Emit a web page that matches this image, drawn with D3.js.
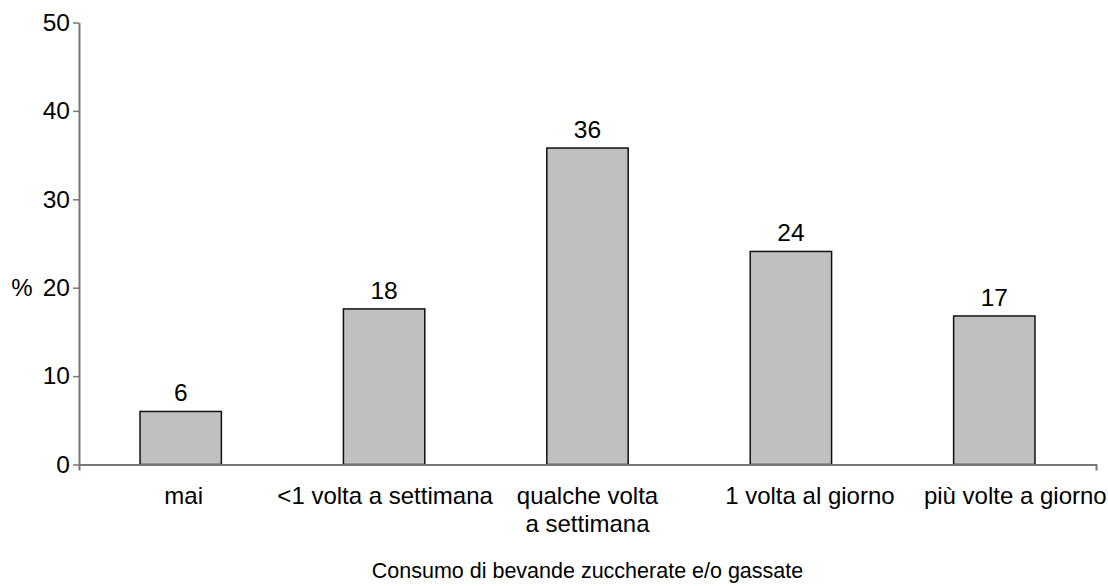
<!DOCTYPE html>
<html>
<head>
<meta charset="utf-8">
<script src="https://cdn.jsdelivr.net/npm/d3@7"></script>
<style>
  body { margin: 0; background: #fff; }
  text { font-family: "Liberation Sans", Arial, sans-serif; fill: #000; }
</style>
</head>
<body>
<svg id="chart" width="1108" height="586"></svg>
<script>
const categories = ["mai", "<1 volta a settimana", "qualche volta\na settimana", "1 volta al giorno", "più volte a giorno"];
const values = [6.0, 17.6, 35.8, 24.1, 16.8];
const labels = ["6", "18", "36", "24", "17"];
const yTicks = [0, 10, 20, 30, 40, 50];
const yTitle = "%";
const xTitle = "Consumo di bevande zuccherate e/o gassate";

(function () {
const svg = d3.select("#chart");
const mLeft = 79, mRight = 1096, mTop = 22.5, mBottom = 464.5;
const fs = 24.5;
const catFs = 24;
// horizontal nudge of category labels as placed in the original
const catNudge = [3, 1, 0, 19, 21];

const x = d3.scaleBand().domain(categories).range([mLeft, mRight]).paddingInner(0.6).paddingOuter(0.3);
const y = d3.scaleLinear().domain([0, 50]).range([mBottom, mTop]);

const axisColor = "#777";

// bars
svg.append("g").selectAll("rect").data(values).join("rect")
  .attr("x", (d, i) => x(categories[i]))
  .attr("y", d => y(d))
  .attr("width", x.bandwidth())
  .attr("height", d => y(0) - y(d))
  .attr("fill", "#c0c0c0")
  .attr("stroke", "#111")
  .attr("stroke-width", 1.5);

// value labels
svg.append("g").selectAll("text").data(values).join("text")
  .attr("x", (d, i) => x(categories[i]) + x.bandwidth() / 2)
  .attr("y", d => y(d) - 10)
  .attr("text-anchor", "middle")
  .attr("font-size", fs)
  .text((d, i) => labels[i]);

// y axis
const yAxis = svg.append("g").attr("transform", `translate(${mLeft},0)`)
  .call(d3.axisLeft(y).tickValues(yTicks).tickSize(6).tickSizeOuter(0).tickPadding(3));
yAxis.select(".domain").attr("stroke", axisColor).attr("stroke-width", 2);
yAxis.selectAll(".tick line").attr("stroke", axisColor).attr("stroke-width", 1.5);
yAxis.selectAll(".tick text").attr("font-size", fs).attr("font-family", "Liberation Sans, Arial, sans-serif").attr("fill", "#000");

// x axis
const xAxis = svg.append("g").attr("transform", `translate(0,${mBottom})`)
  .call(d3.axisBottom(x).tickSize(0).tickSizeOuter(6).tickFormat(""));
xAxis.select(".domain").attr("stroke", axisColor).attr("stroke-width", 2);
xAxis.selectAll(".tick").remove();

// category labels
const catG = svg.append("g");
categories.forEach((c, k) => {
  const cx = x(c) + x.bandwidth() / 2 + catNudge[k];
  const lines = c.split("\n");
  const t = catG.append("text")
    .attr("x", cx)
    .attr("y", 504)
    .attr("text-anchor", "middle")
    .attr("font-size", catFs);
  lines.forEach((l, i) => {
    t.append("tspan").attr("x", cx).attr("dy", i === 0 ? 0 : 27.5).text(l);
  });
});

// axis titles
svg.append("text").attr("x", 22).attr("y", 296).attr("text-anchor", "middle").attr("font-size", 24).text(yTitle);
svg.append("text").attr("x", (mLeft + mRight) / 2).attr("y", 578).attr("text-anchor", "middle").attr("font-size", 21.5).text(xTitle);
})();
</script>
</body>
</html>
